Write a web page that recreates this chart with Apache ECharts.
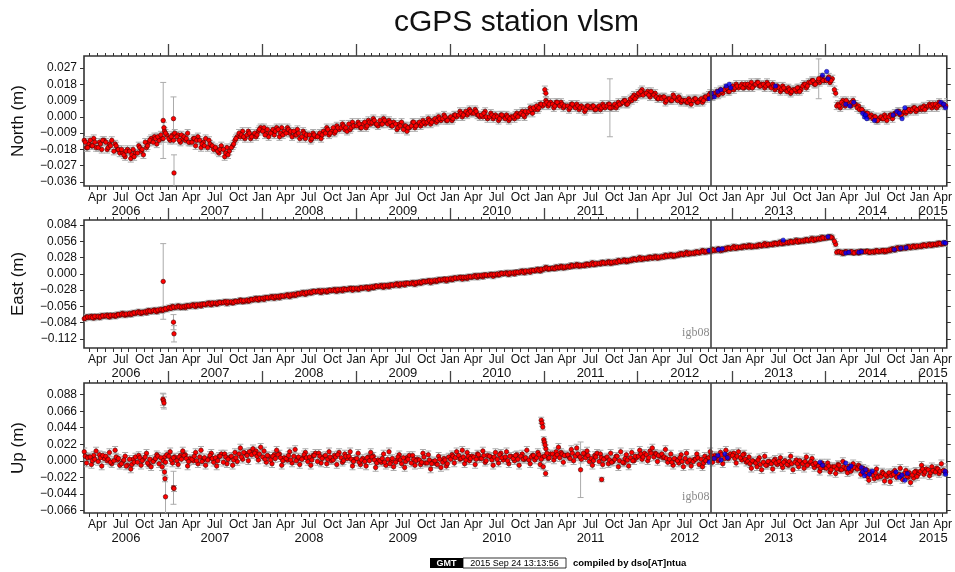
<!DOCTYPE html>
<html>
<head>
<meta charset="utf-8">
<title>cGPS station vlsm</title>
<script src="https://cdn.jsdelivr.net/npm/echarts@6/dist/echarts.min.js"></script>
<style>
  html, body { margin: 0; padding: 0; background: #fff; }
  #chart { width: 955px; height: 572px; }
</style>
</head>
<body>
<div id="chart"></div>
<script>
// daily solutions thinned to 6 per month, Feb 2006 .. Apr 2015, in mm
// set A: 9th, 18th, 27th of each month
const northMm = [
  -13,-17,-15, -16,-12,-17, -14,-18,-13, -18,-15,-13, -15,-18,-20, -20,-22,-18, -23,-18,-20, -16,-19,-21, -17,-14,-12, -11,-15,-13, -12,-8,-10,
  -13,-10,-9, -10,-14,-12, -13,-9,-14, -12,-16,-11, -17,-14,-12, -13,-16,-18, -18,-20,-16, -22,-17,-19, -16,-13,-11, -11,-8,-12, -8,-12,-10, -11,-8,-6,
  -6,-9,-11, -8,-10,-6, -11,-6,-8, -6,-9,-11, -10,-7,-12, -8,-12,-10, -13,-9,-11, -10,-12,-8, -6,-10,-8, -9,-5,-7, -4,-7,-8, -7,-3,-5,
  -3,-6,-4, -6,-2,-4, -1,-4,-5, -4,-1,-3, -2,-5,-3, -7,-4,-3, -5,-8,-6, -3,-6,-4, -5,-2,-4, -1,-4,-2, -3,0,-2, 1,-2,-1,
  -2,1,0, 3,0,2, 1,4,2, 4,1,0, 0,3,-1, 2,-1,1, -2,1,0, 1,-2,0, -1,2,1, 3,0,2, 5,2,4, 4,7,6,
  9,6,8, 5,8,7, 8,5,6, 4,7,6, 7,4,6, 3,6,5, 6,4,5, 4,7,5, 7,5,6, 5,8,7, 9,7,8, 9,12,11,
  12,15,13, 14,11,13, 13,10,11, 11,8,10, 9,12,10, 11,8,9, 8,10,7, 10,8,9, 8,11,10, 13,11,12, 12,15,13, 16,14,15,
  15,18,16, 18,16,17, 16,19,17, 19,17,18, 16,19,17, 18,15,17, 14,17,15, 16,13,15, 14,16,15, 18,16,19, 20,18,19, 19,22,20,
  21,19,21, 13,7,5, 9,6,8, 6,9,7, 6,4,3, 2,0,1, 0,-2,-1, -1,1,-2, 1,-1,2, 3,1,2, 2,4,3, 5,3,4,
  4,6,5, 7,5,6, 5,8,7, 6,8
];
// set B: 4th, 13th, 22nd of each month
const northMmB = [
  -16,-14,-17, -13,-16,-14, -17,-15,-13, -14,-17,-16, -19,-16,-18, -18,-21,-19, -19,-21,-22, -20,-17,-18, -14,-16,-13, -14,-12,-11, -10,-12,-9,
  -12,-11,-13, -11,-13,-10, -11,-12,-14, -14,-12,-13, -13,-15,-16, -17,-15,-16, -17,-19,-18, -18,-20,-21, -17,-15,-12, -9,-10,-11, -10,-9,-11, -9,-10,-7,
  -8,-10,-7, -9,-7,-8, -7,-9,-10, -9,-7,-8, -8,-10,-9, -11,-9,-10, -10,-12,-10, -11,-9,-10, -9,-7,-9, -6,-8,-6, -6,-5,-6, -4,-6,-5,
  -5,-4,-6, -3,-5,-3, -3,-2,-4, -2,-4,-2, -4,-3,-5, -4,-6,-5, -7,-5,-6, -5,-3,-5, -3,-4,-3, -3,-2,-3, -1,-2,-1, -1,0,-2,
  0,-1,1, 1,2,1, 3,2,3, 2,3,1, 1,2,0, 0,1,0, 0,-1,1, -1,0,-1, 0,1,0, 2,1,3, 3,4,5, 6,5,7,
  7,8,7, 7,6,8, 6,7,6, 6,5,7, 5,6,5, 5,4,6, 5,6,4, 6,5,6, 6,7,5, 7,6,7, 8,9,7, 10,11,10,
  13,14,12, 13,12,14, 12,11,10, 10,11,9, 10,9,11, 9,10,9, 9,8,9, 9,10,8, 10,9,11, 12,11,13, 14,13,14, 15,16,14,
  17,16,17, 17,16,18, 18,17,16, 18,19,17, 18,17,18, 16,17,16, 16,15,16, 14,15,14, 15,16,14, 17,18,17, 19,20,18, 20,21,20,
  20,22,20, 15,6,6, 8,7,9, 7,8,7, 5,4,4, 1,2,0, -1,0,-2, 0,-1,0, 0,1,1, 2,3,1, 3,3,4, 4,5,4,
  5,5,4, 6,6,7, 7,6,7, 7,6
];
const eastMm = [
  -77,-74,-75, -73,-76,-74, -75,-72,-73, -71,-74,-72, -73,-70,-71, -68,-71,-70, -70,-67,-68, -65,-68,-66, -67,-63,-65, -62,-65,-63, -63,-60,-61,
  -59,-56,-58, -55,-58,-57, -58,-55,-56, -53,-56,-54, -55,-52,-53, -50,-53,-51, -52,-49,-50, -48,-51,-49, -50,-47,-48, -45,-48,-47, -47,-44,-45, -42,-45,-43,
  -44,-41,-42, -39,-42,-40, -41,-38,-39, -36,-39,-37, -37,-34,-35, -32,-35,-33, -33,-30,-31, -29,-32,-30, -31,-28,-29, -27,-30,-28, -29,-26,-27, -25,-28,-26,
  -27,-24,-25, -23,-26,-24, -24,-21,-22, -20,-23,-21, -22,-19,-20, -17,-20,-18, -19,-16,-17, -15,-18,-16, -16,-13,-14, -12,-15,-13, -13,-10,-11, -9,-12,-10,
  -10,-7,-8, -6,-9,-7, -8,-5,-6, -3,-6,-4, -5,-2,-3, -1,-4,-2, -2,1,0, 2,-1,1, 0,3,2, 5,2,4, 3,6,5, 8,5,7,
  11,8,9, 9,12,10, 13,10,11, 12,15,13, 16,13,14, 14,17,15, 19,16,17, 17,20,18, 21,18,19, 20,23,21, 24,21,22, 23,26,24,
  28,25,26, 26,29,27, 30,27,28, 29,32,30, 33,30,31, 32,35,33, 37,34,35, 35,38,36, 40,37,38, 39,42,40, 43,40,41, 42,45,43,
  47,44,45, 45,48,46, 49,46,47, 47,50,48, 52,49,50, 50,53,51, 55,52,53, 53,56,54, 58,55,56, 56,59,57, 61,58,59, 60,63,61,
  62,64,62, 51,38,37, 35,38,37, 38,36,37, 36,39,38, 39,37,38, 37,40,38, 40,38,39, 40,43,41, 45,43,44, 44,47,45, 48,46,47,
  47,50,48, 51,49,50, 50,53,51, 53,52
];
const eastMmB = [
  -75,-76,-74, -74,-75,-73, -73,-74,-72, -72,-73,-71, -71,-72,-70, -69,-70,-69, -68,-69,-67, -66,-67,-66, -65,-64,-64, -63,-64,-62, -61,-62,-60,
  -58,-59,-57, -57,-56,-57, -56,-55,-55, -54,-55,-53, -53,-52,-52, -51,-52,-50, -50,-51,-49, -49,-48,-48, -48,-49,-47, -47,-46,-46, -45,-46,-44, -43,-44,-42,
  -42,-41,-41, -40,-41,-39, -39,-38,-38, -37,-38,-36, -35,-36,-34, -33,-34,-32, -31,-32,-30, -30,-31,-29, -29,-30,-28, -28,-29,-27, -27,-26,-27, -26,-25,-25,
  -25,-26,-24, -24,-23,-23, -22,-23,-21, -21,-22,-20, -20,-19,-19, -18,-19,-17, -17,-16,-16, -16,-17,-15, -14,-15,-13, -13,-12,-12, -11,-12,-10, -10,-9,-9,
  -8,-9,-7, -7,-6,-6, -6,-5,-5, -4,-5,-3, -3,-2,-2, -2,-1,-1, 0,-1,1, 1,0,2, 2,3,3, 4,3,5, 5,6,6, 7,6,8,
  9,10,9, 10,9,11, 11,12,12, 13,12,14, 14,15,15, 15,16,16, 17,16,18, 18,19,19, 19,20,20, 21,20,22, 22,23,23, 24,25,25,
  26,25,27, 27,28,28, 28,29,29, 30,29,31, 31,32,32, 33,34,34, 35,34,36, 36,37,37, 38,39,39, 40,39,41, 41,42,42, 43,44,44,
  45,44,46, 46,47,47, 47,48,48, 48,49,49, 50,49,51, 51,52,52, 53,52,54, 54,55,55, 56,55,57, 57,58,58, 59,58,60, 61,60,62,
  62,63,63, 56,37,38, 37,36,38, 37,38,36, 38,37,38, 38,39,37, 38,39,39, 39,40,40, 41,42,42, 44,43,45, 45,46,46, 47,46,48,
  48,49,49, 50,49,51, 51,52,52, 52,53
];
const upMm = [
  12,-3,5, -5,7,13, 8,-7,3, 0,11,-4, 14,1,-6, -1,6,-6, -11,2,5, 7,-6,2, 10,-5,-8, 1,8,-4, -8,5,8,
  12,-3,5, -5,7,13, 8,-7,3, 0,11,-4, 14,1,-6, 3,10,-2, -7,6,9, 9,-4,4, -6,11,-1, 17,2,10, 0,12,16, 13,1,18,
  13,-2,6, -4,8,14, 9,-6,4, 1,12,-3, 15,2,-5, 4,11,-1, -6,7,10, 10,-3,5, -4,12,0, 7,-5,11, -2,9,3, 12,-7,2,
  10,-5,3, -7,5,11, 6,-9,1, -2,9,-6, 12,-1,-8, 1,8,-4, -9,4,7, 7,-6,2, -5,10,-3, 8,-11,-1, -4,6,-9, 3,-7,5,
  8,-3,12, 2,14,-4, 11,0,6, -5,9,3, 13,-2,7, 5,-6,11, -3,10,1, 12,-4,6, 0,8,-6, 9,2,14, -4,7,1, 11,-5,5,
  16,3,9, 1,12,18, 11,-2,7, 5,15,0, 17,6,2, 8,13,-1, -6,7,10, 9,-5,3, -4,10,-1, 6,-8,12, -3,8,-7, 11,0,4,
  14,2,10, 0,13,17, 10,-1,6, 4,15,-2, 9,-6,2, -3,8,-8, 10,-1,-7, 2,9,-5, -8,6,3, 12,-2,7, 0,11,-4, 14,3,9,
  10,-3,12, 1,9,-2, 5,-10,-1, -8,4,-12, 6,-6,-1, -11,2,-5, 4,-9,0, -6,6,-12, 1,-8,-2, -10,5,-4, 3,-9,-6, -14,-3,-9,
  -3,-15,-8, -17,-5,-12, -1,-11,-16, -14,-4,-9, -6,-18,-10, -12,-26,-17, -24,-11,-20, -15,-27,-21, -28,-16,-13, -20,-10,-25, -13,-22,-29, -23,-14,-18,
  -6,-18,-11, -20,-8,-14, -10,-17,-4, -15,-9
];
const upMmB = [
  1,6,4, 5,0,2, -1,4,7, 6,2,-2, 0,5,3, -4,1,-7, 2,-5,-2, -2,4,0, 5,-3,2, -1,3,6, 4,0,-2,
  6,1,4, 0,5,2, 7,3,-1, 2,6,0, 5,-1,4, 1,7,3, 4,0,6, -2,5,2, 6,1,4, 9,5,11, 7,12,8, 10,6,9,
  5,2,7, 1,6,3, 8,4,0, 3,7,1, 6,0,5, 2,8,4, 5,1,7, -1,6,3, 7,2,5, 1,5,8, 4,0,6, 6,2,-1,
  3,-2,1, -1,4,0, 5,1,-3, 0,3,-2, 2,-4,3, -2,5,1, 4,-1,2, -3,2,0, 1,-2,5, -3,1,-4, 0,-5,2, -2,1,-4,
  2,6,4, 7,3,5, 1,6,3, 5,2,8, 3,7,0, 6,1,5, 2,8,4, 5,0,6, 3,7,2, 6,2,4, 1,5,7, 4,8,2,
  6,10,4, 9,5,8, 4,9,7, 8,3,10, 6,9,5, 10,4,7, 3,0,5, -1,4,2, 5,1,-2, 2,6,0, -2,3,1, 4,0,6,
  6,9,5, 8,4,10, 5,9,7, 9,5,3, 2,-2,3, 0,4,-1, 3,-2,1, -1,2,4, 2,-3,0, 4,7,3, 6,2,8, 3,7,5,
  7,3,6, 4,8,2, -1,-4,0, -3,1,-5, -2,-6,-1, -4,0,-3, -1,-5,-2, -5,-1,-4, -2,-4,0, -4,-1,-6, -1,-5,-3, -7,-10,-6,
  -10,-7,-12, -8,-11,-6, -12,-8,-10, -7,-11,-9, -11,-8,-13, -17,-21,-15, -19,-16,-22, -21,-17,-19, -16,-20,-18, -22,-18,-20, -17,-21,-16, -19,-15,-21,
  -14,-11,-15, -12,-16,-13, -15,-11,-14, -13,-15
];

// typical formal errors (mm)
const northErr = 2;
const eastErr = 4.5;
const upErr = 5;

// outliers with their own error bars: [date, value mm, error mm]
const northOutliers = [
  ['2006-12-13', -2, 21], ['2006-12-16', -6, 3], ['2007-01-22', -1, 12], ['2007-01-24', -31, 10],
  ['2011-01-05', 15, 2], ['2011-01-09', 13, 2], ['2011-09-15', 5, 16], ['2013-12-05', 21, 11]
];
const eastOutliers = [
  ['2006-12-13', -13, 65], ['2007-01-22', -83, 13], ['2007-01-24', -103, 14]
];
const upOutliers = [
  ['2006-12-12', 82, 8], ['2006-12-14', 80, 9], ['2006-12-16', 77, 8],
  ['2006-12-18', -15, 4], ['2006-12-20', -24, 4], ['2006-12-22', -48, 26],
  ['2007-01-22', -36, 22], ['2007-01-24', -37, 4],
  ['2010-12-22', 54, 4], ['2010-12-25', 50, 4], ['2010-12-28', 45, 4], ['2011-01-01', 28, 4],
  ['2011-01-03', 25, 4], ['2011-01-06', 21, 4], ['2010-12-30', -8, 4], ['2011-01-08', -17, 4],
  ['2011-05-24', -12, 37], ['2011-08-14', -25, 3]
];

// solutions from the second processing run (blue)
const northBlue = [
  ['2012-10-05', 10], ['2012-10-15', 13], ['2012-10-25', 11], ['2012-11-08', 14], ['2012-11-20', 15],
  ['2012-12-10', 17], ['2012-12-22', 18], ['2012-12-28', 16], ['2013-06-20', 17],
  ['2013-12-20', 23], ['2014-01-05', 25], ['2014-01-10', 21],
  ['2014-03-20', 7], ['2014-04-05', 6], ['2014-04-20', 8],
  ['2014-05-25', 2], ['2014-06-01', 0], ['2014-06-05', 1], ['2014-06-10', -1], ['2014-07-10', -2],
  ['2014-09-20', 1], ['2014-10-05', 3], ['2014-10-15', 2], ['2014-10-25', -1], ['2014-11-05', 5],
  ['2015-03-25', 8], ['2015-04-05', 7], ['2015-04-12', 5]
];
const eastBlue = [
  ['2012-10-05', 40], ['2012-11-10', 42], ['2012-11-25', 43], ['2013-07-20', 58], ['2014-01-10', 64],
  ['2014-03-20', 36], ['2014-04-01', 37], ['2014-05-10', 37], ['2014-05-20', 38],
  ['2014-09-25', 42], ['2014-10-20', 44], ['2014-11-10', 45], ['2015-04-05', 54], ['2015-04-12', 53]
];
const upBlue = [
  ['2012-10-05', -2], ['2012-10-25', 3], ['2012-11-08', 7], ['2012-11-20', 1], ['2012-12-05', 9], ['2012-12-15', 4],
  ['2013-12-10', -2], ['2013-12-20', -6], ['2014-03-20', -3], ['2014-04-01', -10], ['2014-04-10', -7],
  ['2014-05-20', -9], ['2014-05-25', -15], ['2014-06-01', -20], ['2014-06-05', -12], ['2014-06-20', -18],
  ['2014-07-01', -14], ['2014-10-01', -15], ['2014-10-15', -22], ['2014-10-25', -19], ['2014-11-05', -26],
  ['2014-11-15', -17], ['2015-04-10', -14], ['2015-04-12', -18]
];

const northTicks = [-0.036, -0.027, -0.018, -0.009, 0, 0.009, 0.018, 0.027];
const eastTicks = [-0.112, -0.084, -0.056, -0.028, 0, 0.028, 0.056, 0.084];
const upTicks = [-0.066, -0.044, -0.022, 0, 0.022, 0.044, 0.066, 0.088];

const yearLabelDates = ['2006-07-21', '2007-07-02', '2008-07-02', '2009-07-02', '2010-07-02',
  '2011-07-02', '2012-07-02', '2013-07-02', '2014-07-02', '2015-02-23'];
const MONTH_NAMES = ['Jan', 'Feb', 'Mar', 'Apr', 'May', 'Jun', 'Jul', 'Aug', 'Sep', 'Oct', 'Nov', 'Dec'];
const antennaChange = '2012-10-10';

const X_MIN = day('2006-02-08');
const X_MAX = day('2015-04-17');
const DAYS_A = [9, 18, 27];
const DAYS_B = [4, 13, 22];

function day(s) {
  const p = s.split('-').map(Number);
  return new Date(p[0], p[1] - 1, p[2]).getTime();
}

function sampleDate(i, days) {
  const m = 1 + Math.floor(i / 3);          // months since Jan 2006
  return new Date(2006 + Math.floor(m / 12), m % 12, days[i % 3]).getTime();
}

// first of every month inside the window
const monthTicks = [];
for (let y = 2006; y <= 2015; y++) {
  for (let m = 0; m < 12; m++) {
    const t = new Date(y, m, 1).getTime();
    if (t > X_MIN && t < X_MAX) monthTicks.push(t);
  }
}
const quarterTicks = monthTicks.filter(t => new Date(t).getMonth() % 3 === 0);
const janTicks = monthTicks.filter(t => new Date(t).getMonth() === 0);

function fmtY(v) {
  const s = Math.abs(v).toFixed(3);
  return v < -1e-9 ? '\u2212' + s : s;
}

function renderErrorBar(params, api) {
  const x = api.value(0), v = api.value(1), e = api.value(2);
  const hi = api.coord([x, v + e]);
  const lo = api.coord([x, v - e]);
  const w = 3;
  const style = { stroke: '#ababab', lineWidth: 1, fill: null };
  return {
    type: 'group',
    children: [
      { type: 'line', shape: { x1: hi[0], y1: hi[1], x2: lo[0], y2: lo[1] }, style: style },
      { type: 'line', shape: { x1: hi[0] - w, y1: hi[1], x2: hi[0] + w, y2: hi[1] }, style: style },
      { type: 'line', shape: { x1: lo[0] - w, y1: lo[1], x2: lo[0] + w, y2: lo[1] }, style: style }
    ]
  };
}

const panels = [
  { name: 'North (m)', a: northMm, b: northMmB, err: northErr, outliers: northOutliers, blue: northBlue,
    ticks: northTicks, min: -0.0382, max: 0.0336, top: 56, height: 130, tag: null },
  { name: 'East (m)', a: eastMm, b: eastMmB, err: eastErr, outliers: eastOutliers, blue: eastBlue,
    ticks: eastTicks, min: -0.1274, max: 0.0926, top: 220, height: 128, tag: -0.101 },
  { name: 'Up (m)', a: upMm, b: upMmB, err: upErr, outliers: upOutliers, blue: upBlue,
    ticks: upTicks, min: -0.0696, max: 0.1036, top: 383, height: 130, tag: -0.0482 }
];

const font = 'Liberation Sans';
const grid = [], xAxis = [], yAxis = [], series = [];

panels.forEach((p, gi) => {
  grid.push({
    left: 84, right: 6, top: p.top, height: p.height,
    show: true, borderColor: '#333', borderWidth: 1.6, backgroundColor: '#fff'
  });
  // x axes are plain value axes over timestamps so that tick positions can be given exactly
  const base = { type: 'value', gridIndex: gi, min: X_MIN, max: X_MAX, splitLine: { show: false },
    axisLine: { show: false, onZero: false } };
  // bottom: monthly ticks, quarter month names
  xAxis.push(Object.assign({}, base, {
    position: 'bottom',
    axisTick: { show: true, customValues: monthTicks, length: 4, lineStyle: { color: '#333', width: 1 } },
    axisLabel: { show: true, customValues: quarterTicks, margin: 6, fontSize: 12, color: '#111', fontFamily: font,
      formatter: v => MONTH_NAMES[new Date(v).getMonth()] }
  }));
  // bottom: year names
  xAxis.push(Object.assign({}, base, {
    position: 'bottom',
    axisTick: { show: false },
    axisLabel: { show: true, customValues: yearLabelDates.map(day), margin: 19, fontSize: 13, color: '#111', fontFamily: font,
      formatter: v => String(new Date(v).getFullYear()) }
  }));
  // top: monthly ticks
  xAxis.push(Object.assign({}, base, {
    position: 'top',
    axisTick: { show: true, customValues: monthTicks, length: 3, lineStyle: { color: '#333', width: 1 } },
    axisLabel: { show: false }
  }));
  // top: long year ticks
  xAxis.push(Object.assign({}, base, {
    position: 'top',
    axisTick: { show: true, customValues: janTicks, length: 12, lineStyle: { color: '#444', width: 1.3 } },
    axisLabel: { show: false }
  }));

  yAxis.push({
    type: 'value', gridIndex: gi, position: 'left', min: p.min, max: p.max,
    name: p.name, nameLocation: 'middle', nameGap: 57, nameRotate: 90,
    nameTextStyle: { fontSize: 17, color: '#111', fontFamily: font },
    splitLine: { show: false }, axisLine: { show: false, onZero: false },
    axisTick: { show: true, customValues: p.ticks, length: 4, lineStyle: { color: '#333' } },
    axisLabel: { show: true, customValues: p.ticks, margin: 7, fontSize: 12, color: '#111', fontFamily: font, formatter: fmtY }
  });
  yAxis.push({
    type: 'value', gridIndex: gi, position: 'right', min: p.min, max: p.max,
    splitLine: { show: false }, axisLine: { show: false, onZero: false },
    axisTick: { show: true, customValues: p.ticks, length: 4, lineStyle: { color: '#333' } },
    axisLabel: { show: false }
  });

  const main = p.a.map((v, i) => [sampleDate(i, DAYS_A), v / 1000])
    .concat(p.b.map((v, i) => [sampleDate(i, DAYS_B), v / 1000]));
  const extra = p.outliers.map(o => [day(o[0]), o[1] / 1000]);
  const bars = main.map(d => [d[0], d[1], p.err / 1000])
    .concat(p.outliers.map(o => [day(o[0]), o[1] / 1000, o[2] / 1000]));
  const blue = p.blue.map(b => [day(b[0]), b[1] / 1000]);

  series.push({
    type: 'custom', xAxisIndex: gi * 4, yAxisIndex: gi * 2, clip: true, silent: true,
    renderItem: renderErrorBar, data: bars, z: 1
  });
  const red = {
    type: 'scatter', xAxisIndex: gi * 4, yAxisIndex: gi * 2, clip: true, silent: true,
    symbol: 'circle', symbolSize: 4.5,
    itemStyle: { color: '#ff0000', borderColor: '#4a0000', borderWidth: 0.6, opacity: 1 },
    data: main.concat(extra), z: 2,
    markLine: {
      silent: true, symbol: 'none', animation: false,
      lineStyle: { color: '#444', width: 1.6, type: 'solid' },
      label: { show: false },
      data: [{ xAxis: day(antennaChange) }]
    }
  };
  if (p.tag !== null) {
    red.markPoint = {
      silent: true, symbol: 'circle', symbolSize: 0, animation: false,
      label: { show: true, position: 'left', distance: 1, formatter: 'igb08',
        color: '#8a8a8a', fontSize: 12, fontFamily: 'Liberation Serif' },
      data: [{ coord: [day(antennaChange), p.tag] }]
    };
  }
  series.push(red);
  series.push({
    type: 'scatter', xAxisIndex: gi * 4, yAxisIndex: gi * 2, clip: true, silent: true,
    symbol: 'circle', symbolSize: 4.5,
    itemStyle: { color: '#0000ff', borderColor: '#000050', borderWidth: 0.5 },
    data: blue, z: 3
  });
});

const chart = echarts.init(document.getElementById('chart'), null, { renderer: 'canvas' });
chart.setOption({
  animation: false,
  backgroundColor: '#fff',
  grid: grid, xAxis: xAxis, yAxis: yAxis, series: series,
  graphic: [
    { type: 'text', x: 516.5, y: 23, style: { text: 'cGPS station vlsm', font: '30px "Liberation Sans"',
      fill: '#111', textAlign: 'center', textVerticalAlign: 'middle' } },
    { type: 'rect', shape: { x: 430, y: 558, width: 33, height: 10 }, style: { fill: '#000' } },
    { type: 'text', x: 446.5, y: 563.5, style: { text: 'GMT', font: 'bold 9px "Liberation Sans"', fill: '#fff',
      textAlign: 'center', textVerticalAlign: 'middle' } },
    { type: 'rect', shape: { x: 463, y: 558, width: 103, height: 10 }, style: { fill: '#fff', stroke: '#000', lineWidth: 0.8 } },
    { type: 'text', x: 514.5, y: 563.5, style: { text: '2015 Sep 24 13:13:56', font: '9px "Liberation Sans"', fill: '#000',
      textAlign: 'center', textVerticalAlign: 'middle' } },
    { type: 'text', x: 573, y: 563.5, style: { text: 'compiled by dso[AT]ntua', font: 'bold 9.5px "Liberation Sans"', fill: '#000',
      textAlign: 'left', textVerticalAlign: 'middle' } }
  ]
});
</script>
</body>
</html>
